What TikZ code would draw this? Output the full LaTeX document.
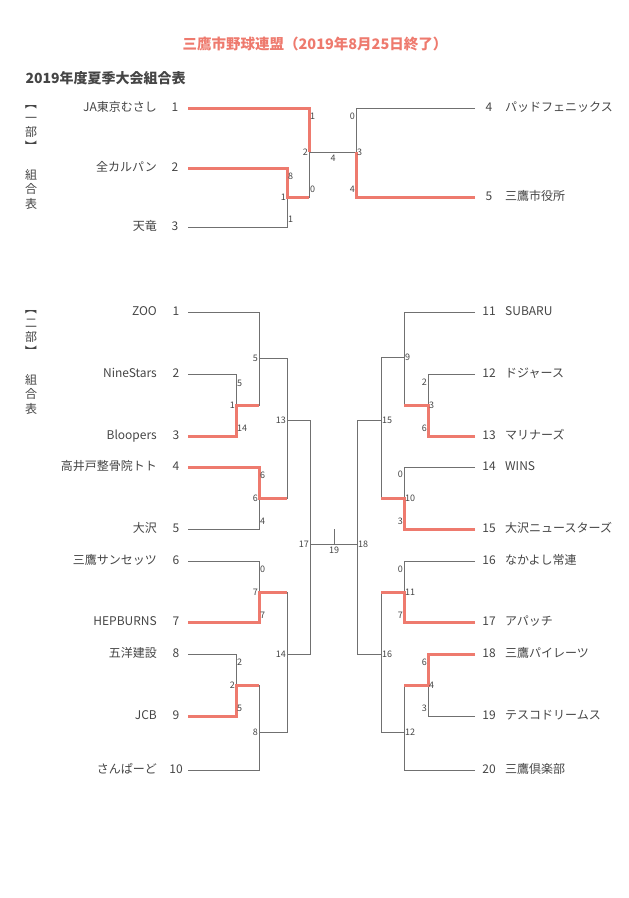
\documentclass[tikz,border=0pt]{standalone}
\usepackage{fontspec}
\setmainfont{Noto Sans CJK JP}
\usepackage{graphicx}
\usepackage{tikz}
\usetikzlibrary{positioning}
\definecolor{ink}{HTML}{454545}
\definecolor{wire}{HTML}{707070}
\definecolor{hit}{RGB}{238,122,110}
\newcommand{\vbra}[1]{\rotatebox[origin=c]{-90}{#1}}
\tikzset{
    team/.style={
        font=\fontsize{12}{14}\selectfont,
        text=ink, inner sep=0pt,
        text height=0.75em, text depth=0.15em
    },
    seed/.style={
        team
    },
    score/.style={
        font=\fontsize{9}{10}\selectfont,
        text=ink, inner sep=1pt
    },
    side/.style={
        font=\fontsize{12}{14.5}\selectfont,
        text=ink, align=center, inner sep=0pt
    },
    headline/.style={font=\bfseries\fontsize{14.5}{16}\selectfont, text=hit},
    subhead/.style={font=\bfseries\fontsize{14}{16}\selectfont, text=ink},
    lose/.style={draw=wire, line width=1pt},
    win/.style={draw=hit, line width=3pt},
}
\begin{document}
\begin{tikzpicture}[x=1pt, y=-1pt]
        \useasboundingbox (0,0) rectangle (629,898);
        \node[headline] (title) at (315,44) {三鷹市野球連盟（2019年8月25日終了）};
        \node[subhead, anchor=west] (sub) at (22,78) {2019年度夏季大会組合表};

        \node[side, anchor=north] (bu1) at (31,97) {\vbra{【}\\一\\部\\\vbra{】}};
        \node[side, below=16pt of bu1] (hyo1) {組\\合\\表};
        \node[side, anchor=north] (bu2) at (31,302) {\vbra{【}\\二\\部\\\vbra{】}};
        \node[side, below=16pt of bu2] (hyo2) {組\\合\\表};

        \foreach \y/\s/\n in {108/1/JA東京むさし, 168/2/全カルパン, 227/3/天竜} {
            \node[team, anchor=east] (na\s) at (157,\y) {\n};
            \node[seed] (sa\s) at (175,\y) {\s};
            \coordinate (a\s) at (188,\y);
        }
        \foreach \y/\s/\n in {108/4/パッドフェニックス, 197/5/三鷹市役所} {
            \node[seed] (sa\s) at (489,\y) {\s};
            \node[team, anchor=west] (na\s) at (505,\y) {\n};
            \coordinate (a\s) at (475,\y);
        }
        \coordinate (ma1) at (287,197);
        \coordinate (ma2) at (309,152);
        \coordinate (ma3) at (356,152);

        \foreach \i/\j in {a2/ma1, a3/ma1, a1/ma2, ma1/ma2, a4/ma3, a5/ma3}
                            \draw[lose] (\i) -| (\j);
        \draw[lose] (ma2) -- (ma3);

        \draw[win] (a1) -| (ma2);
        \draw[win] (a2) -| (ma1) -- (ma1 -| ma2);
        \draw[win] (a5) -| (ma3);

        \foreach \x/\y/\t/\w [count=\k] in {287/197/1/left, 287/176/8/right, 287/219/1/right,
                        309/152/2/left, 309/116/1/right, 309/189/0/right,
                        356/152/3/right, 356/116/0/left, 356/189/4/left, 333/154/4/below}
                            \node[score, \w] (ka\k) at (\x,\y) {\t};

        \foreach \y/\s/\n in {312/1/ZOO, 374/2/NineStars, 436/3/Bloopers, 467/4/高井戸整骨院トト,
                        529/5/大沢, 561/6/三鷹サンセッツ, 622/7/HEPBURNS, 654/8/五洋建設,
                        716/9/JCB, 770/10/さんぱーど} {
            \node[team, anchor=east] (nb\s) at (157,\y) {\n};
            \node[seed] (sb\s) at (176,\y) {\s};
            \coordinate (b\s) at (188,\y);
        }
        \foreach \y/\s/\n in {312/11/SUBARU, 374/12/ドジャース, 436/13/マリナーズ, 467/14/WINS,
                        529/15/大沢ニュースターズ, 561/16/なかよし常連, 622/17/アパッチ,
                        654/18/三鷹パイレーツ, 716/19/テスコドリームス, 770/20/三鷹倶楽部} {
            \node[seed] (sb\s) at (489,\y) {\s};
            \node[team, anchor=west] (nb\s) at (505,\y) {\n};
            \coordinate (b\s) at (475,\y);
        }
        \foreach \m/\x/\y in {1/236/405, 2/236/685, 5/259/358, 6/259/498, 7/259/592,
                        8/259/732, 13/287/420, 14/287/654, 17/310/544,
                        3/428/405, 4/428/685, 9/404/357, 10/404/498, 11/404/592,
                        12/404/732, 15/381/420, 16/381/654, 18/357/544, 19/334/544}
                            \coordinate (mb\m) at (\x,\y);

        \foreach \i/\j in {b2/mb1, b3/mb1, b1/mb5, mb1/mb5, b4/mb6, b5/mb6, mb5/mb13, mb6/mb13,
                        b6/mb7, b7/mb7, b8/mb2, b9/mb2, mb2/mb8, b10/mb8, mb7/mb14, mb8/mb14,
                        mb13/mb17, mb14/mb17,
                        b11/mb9, b12/mb3, b13/mb3, mb3/mb9, b14/mb10, b15/mb10, mb9/mb15, mb10/mb15,
                        b16/mb11, b17/mb11, b18/mb4, b19/mb4, mb4/mb12, b20/mb12, mb11/mb16, mb12/mb16,
                        mb15/mb18, mb16/mb18}
                            \draw[lose] (\i) -| (\j);
        \draw[lose] (mb17) -- (mb18);
        \draw[lose] (mb19) -- ++(0,-15);

        \foreach \t/\m/\n in {b3/mb1/mb5, b4/mb6/mb13, b7/mb7/mb14, b9/mb2/mb8,
                        b13/mb3/mb9, b15/mb10/mb15, b17/mb11/mb16, b18/mb4/mb12}
                            \draw[win] (\t) -| (\m) -- (\m -| \n);

        \foreach \x/\y/\t/\w [count=\k] in {236/405/1/left, 236/383/5/right, 236/428/14/right,
                        259/358/5/left, 259/498/6/left, 259/475/6/right, 259/521/4/right,
                        287/420/13/left, 259/592/7/left, 259/569/0/right, 259/615/7/right,
                        236/685/2/left, 236/662/2/right, 236/708/5/right,
                        259/732/8/left, 287/654/14/left, 310/544/17/left,
                        404/357/9/right, 428/405/3/right, 428/382/2/left, 428/428/6/left,
                        404/498/10/right, 404/474/0/left, 404/521/3/left, 381/420/15/right,
                        404/592/11/right, 404/569/0/left, 404/615/7/left,
                        428/685/4/right, 428/662/6/left, 428/708/3/left,
                        404/732/12/right, 381/654/16/right, 357/544/18/right, 334/546/19/below}
                            \node[score, \w] (kb\k) at (\x,\y) {\t};
    \end{tikzpicture}
\end{document}
